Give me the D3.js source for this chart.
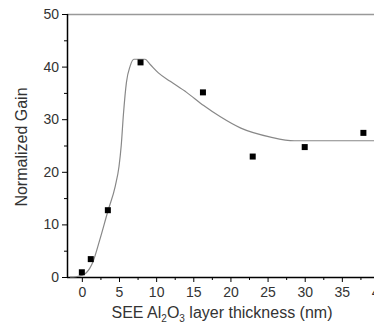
<!DOCTYPE html>
<html>
<head>
<meta charset="utf-8">
<script src="https://cdn.jsdelivr.net/npm/d3@7"></script>
<style>
html,body{margin:0;padding:0;background:#fff;overflow:hidden;}
svg{display:block;font-family:"Liberation Sans",Arial,sans-serif;}
</style>
</head>
<body>
<svg id="chart" width="374" height="331"></svg>
<script>
// data
const pointX = [0, 1.2, 3.5, 7.9, 16.3, 23.0, 30.0, 37.9];
const pointY = [0.9, 3.4, 12.7, 40.8, 35.1, 22.9, 24.7, 27.4];
const fitX = [-1.6, -0.8, 0, 0.6, 1.5, 2.4, 3.5, 4.5, 5.0, 5.3, 5.6, 6.0, 6.5, 7.0, 8.5, 9.2, 10.3, 11.9, 14.1, 16.4, 18.6, 21.4, 25.4, 28.6, 40];
const fitY = [0, 0.05, 0.3, 0.8, 2.9, 7.0, 12.5, 17.3, 21, 25, 31, 37, 40.1, 41.4, 41.4, 40.4, 38.8, 37.2, 35.1, 32.6, 30.5, 28.3, 26.6, 25.9, 25.9];
const xMajor = [0, 5, 10, 15, 20, 25, 30, 35, 40];
const xMinor = [2.5, 7.5, 12.5, 17.5, 22.5, 27.5, 32.5, 37.5];
const yMajor = [0, 10, 20, 30, 40, 50];
const yMinor = [5, 15, 25, 35, 45];

const svg = d3.select("#chart");
const mLeft = 67, mRight = 379, mTop = 14, mBottom = 277;
const x = d3.scaleLinear().domain([-2, 40]).range([mLeft, mRight]);
const y = d3.scaleLinear().domain([0, 50]).range([mBottom, mTop]);
const textCol = "#333";

// y axis
const ya = svg.append("g").attr("transform", `translate(${mLeft},0)`)
  .call(d3.axisLeft(y).tickValues(yMajor).tickSize(5).tickPadding(3).tickFormat(d3.format("d")));
ya.select(".domain").remove();
ya.selectAll("line").attr("stroke", "#000");
ya.selectAll("text").attr("font-size", 14).attr("fill", textCol).attr("font-family", "Liberation Sans, Arial, sans-serif");
const yam = svg.append("g").attr("transform", `translate(${mLeft},0)`)
  .call(d3.axisLeft(y).tickValues(yMinor).tickSize(3).tickFormat(""));
yam.select(".domain").remove();
yam.selectAll("line").attr("stroke", "#000");

// x axis
const xa = svg.append("g").attr("transform", `translate(0,${mBottom})`)
  .call(d3.axisBottom(x).tickValues(xMajor).tickSize(5).tickPadding(5).tickFormat(d3.format("d")));
xa.select(".domain").remove();
xa.selectAll("line").attr("stroke", "#000");
xa.selectAll("text").attr("font-size", 14).attr("fill", textCol).attr("font-family", "Liberation Sans, Arial, sans-serif");
const xam = svg.append("g").attr("transform", `translate(0,${mBottom})`)
  .call(d3.axisBottom(x).tickValues(xMinor).tickSize(3).tickFormat(""));
xam.select(".domain").remove();
xam.selectAll("line").attr("stroke", "#000");

// frame lines
svg.append("line").attr("x1", mLeft).attr("x2", 374).attr("y1", mTop + 0.5).attr("y2", mTop + 0.5)
  .attr("stroke", "#999").attr("stroke-width", 1.5);
svg.append("line").attr("x1", mLeft + 0.5).attr("x2", mLeft + 0.5).attr("y1", mTop).attr("y2", mBottom)
  .attr("stroke", "#000").attr("stroke-width", 1.5);
svg.append("line").attr("x1", mLeft).attr("x2", 374).attr("y1", mBottom + 0.5).attr("y2", mBottom + 0.5)
  .attr("stroke", "#000").attr("stroke-width", 1.5);

// fit curve
const fit = fitX.map((v, i) => [v, fitY[i]]);
svg.append("path").datum(fit)
  .attr("d", d3.line().x(d => x(d[0])).y(d => y(d[1])).curve(d3.curveMonotoneX))
  .attr("fill", "none").attr("stroke", "#888").attr("stroke-width", 1.2);

// points
const pts = pointX.map((v, i) => [v, pointY[i]]);
svg.append("g").selectAll("rect").data(pts).join("rect")
  .attr("x", d => x(d[0]) - 3).attr("y", d => y(d[1]) - 3)
  .attr("width", 6).attr("height", 6).attr("fill", "#000");

// axis titles
const xt = svg.append("text").attr("x", 222).attr("y", 318).attr("text-anchor", "middle")
  .attr("font-size", 16).attr("fill", textCol);
xt.append("tspan").text("SEE Al");
xt.append("tspan").text("2").attr("font-size", 10).attr("dy", 4);
xt.append("tspan").text("O").attr("dy", -4);
xt.append("tspan").text("3").attr("font-size", 10).attr("dy", 4);
xt.append("tspan").text(" layer thickness (nm)").attr("dy", -4);

svg.append("text").attr("transform", "translate(27,147) rotate(-90)").attr("text-anchor", "middle")
  .attr("font-size", 16).attr("fill", textCol).text("Normalized Gain");
</script>
</body>
</html>
